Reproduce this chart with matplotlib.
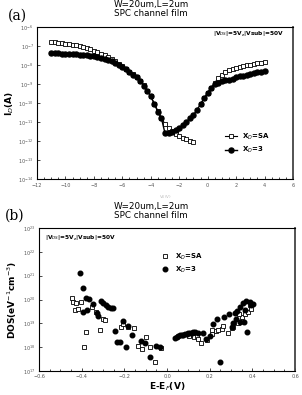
import numpy as np
import matplotlib
matplotlib.use("Agg")
import matplotlib.pyplot as plt
from matplotlib.ticker import MultipleLocator, LogLocator, NullLocator

# ---- (a) drain current vs gate voltage, log10(I_D) ----
vg = np.arange(-11.0, 4.01, 0.25)

log_id_sa = [-6.80, -6.81, -6.83, -6.85, -6.87, -6.90, -6.93, -6.97, -7.01, -7.06,
             -7.11, -7.17, -7.24, -7.32, -7.40, -7.49, -7.58, -7.68, -7.79, -7.92,
             -8.06, -8.20, -8.34, -8.49, -8.64, -8.84, -9.07, -9.34, -9.64, -10.02,
             -10.42, -10.78, -11.10, -11.30, -11.47, -11.60, -11.72, -11.82, -11.90, -11.98,
             -12.05, np.nan,
             -10.05, -9.75, -9.45, -9.18, -8.92, -8.68, -8.50, -8.38, -8.28, -8.20,
             -8.14, -8.09, -8.05, -8.01, -7.98, -7.94, -7.90, -7.87, -7.84]

log_id_3 = [-7.38, -7.38, -7.39, -7.40, -7.41, -7.42, -7.43, -7.44, -7.45, -7.46,
            -7.48, -7.51, -7.54, -7.58, -7.62, -7.68, -7.74, -7.81, -7.89, -7.99,
            -8.10, -8.23, -8.36, -8.50, -8.65, -8.85, -9.08, -9.35, -9.65, -10.05,
            -10.45, -10.80,
            -11.58, -11.56, -11.50, -11.42, -11.30, -11.15, -10.98, -10.80, -10.62, -10.35,
            -10.05, -9.75, -9.45, -9.20, -9.02, -8.92, -8.86, -8.81, -8.77, -8.71,
            -8.65, -8.60, -8.55, -8.50, -8.46, -8.42, -8.38, -8.34, -8.31]

# ---- (b) density of states, log10(DOS) ----
e_sa = [-0.447, -0.439, -0.427, -0.405, -0.431, -0.416, -0.380, -0.388, -0.353, -0.333,
        -0.314, -0.301, -0.289, -0.216, -0.208, -0.181, -0.155, -0.137, -0.119, -0.098,
        -0.080, -0.056, -0.029,
        0.105, 0.120, 0.127, 0.139, 0.144, 0.158, 0.186, 0.210, 0.230, 0.240, 0.256,
        0.287, 0.308, 0.210, 0.264, 0.303, 0.334, 0.350, 0.366, 0.378, 0.392, 0.389, 0.339]
log_dos_sa = [20.08, 19.91, 19.84, 19.88, 19.56, 19.59, 18.62, 17.99, 19.70, 19.49,
              18.72, 19.17, 19.14, 18.83, 18.97, 18.86, 18.79, 18.05, 17.91, 18.44,
              18.02, 17.39, 17.95,
              18.47, 18.50, 18.44, 18.47, 18.33, 18.19, 18.30, 18.55, 18.66, 18.71, 18.77,
              18.61, 18.83, 18.72, 18.89, 18.79, 19.03, 19.25, 19.39, 19.49, 19.59, 19.77, 19.39]

e_3 = [-0.410, -0.392, -0.380, -0.364, -0.395, -0.374, -0.348, -0.330, -0.322, -0.309,
       -0.299, -0.287, -0.275, -0.264, -0.252, -0.244, -0.233, -0.220, -0.205, -0.192,
       -0.184, -0.165, -0.122, -0.103, -0.080, -0.053, -0.033,
       0.038, 0.045, 0.053, 0.061, 0.069, 0.077, 0.084, 0.092, 0.100, 0.108, 0.116, 0.124,
       0.131, 0.147, 0.167, 0.181, 0.202, 0.214, 0.233, 0.249, 0.269, 0.292, 0.319, 0.327,
       0.342, 0.358, 0.370, 0.389, 0.402, 0.366, 0.342, 0.361, 0.377, 0.323, 0.311, 0.303, 0.395]
log_dos_3 = [21.12, 20.47, 20.08, 20.02, 19.49, 19.56, 19.81, 19.42, 19.32, 19.95,
             19.87, 19.77, 19.67, 19.63, 19.66, 18.68, 18.23, 18.20, 19.10, 17.99,
             18.89, 18.51, 18.27, 18.16, 17.57, 18.05, 17.99,
             18.37, 18.42, 18.47, 18.49, 18.51, 18.53, 18.55, 18.56, 18.58, 18.60, 18.61, 18.63,
             18.65, 18.58, 18.58, 18.33, 18.47, 18.97, 19.17, 17.36, 19.28, 19.39, 19.45, 19.53,
             19.70, 19.84, 19.94, 19.91, 19.81, 19.56, 19.07, 19.07, 18.65, 19.17, 19.00, 18.83, 19.76]

W, H = 302, 395
fig = plt.figure(figsize=(W / 100, H / 100), dpi=100)
plt.rcParams['font.family'] = ['DejaVu Sans']
tick_col = '#555555'


def style_axis(ax):
    ax.tick_params(which='both', direction='in', labelsize=3.5, labelcolor=tick_col,
                   width=0.5)
    ax.tick_params(axis='x', which='both', pad=2.5)
    ax.tick_params(axis='y', which='both', pad=2.5)
    ax.tick_params(which='major', length=2)
    ax.tick_params(which='minor', length=1.2)
    for s in ax.spines.values():
        s.set_linewidth(0.8)
    ax.spines['right'].set_linewidth(1.3)
    ax.spines['right'].set_color('#444444')
    ax.tick_params(axis='y', which='minor', left=False)


# ---------------- panel (a) ----------------
ax1 = fig.add_axes([37 / W, 1 - 179.3 / H, 256 / W, 152.3 / H])
ax1.plot(vg, 10 ** np.array(log_id_sa), 's-', color='black', mfc='white', mew=0.6,
         ms=3.1, lw=0.8, label='X$_D$=SA')
ax1.plot(vg, 10 ** np.array(log_id_3), 'o-', color='black', ms=3.6, lw=1.0, label='X$_D$=3')
ax1.set_yscale('log')
ax1.set_xlim(-12, 6)
ax1.set_ylim(1e-14, 1e-6)
ax1.xaxis.set_major_locator(MultipleLocator(2))
ax1.xaxis.set_minor_locator(MultipleLocator(0.5))
ax1.yaxis.set_major_locator(LogLocator(base=10, numticks=20))
ax1.yaxis.set_minor_locator(NullLocator())
style_axis(ax1)
ax1.set_ylabel('I$_D$(A)', fontsize=6.5, fontweight='bold', labelpad=2)
ax1.set_xlabel('V$_G$(V)', fontsize=3, color='#bbbbbb', labelpad=4)
ax1.text(0.687, 0.955, '|V$_{DS}$|=5V,|Vsub|=50V', transform=ax1.transAxes,
         fontsize=4.2, fontweight='bold', va='center', ha='left')
ax1.legend(loc='upper left', bbox_to_anchor=(0.72, 0.335), frameon=False,
           handlelength=1.7, handletextpad=0.8, labelspacing=0.45, borderpad=0,
           prop={'weight': 'bold', 'size': 5})

fig.text(151 / W, 1 - 5 / H, 'W=20um,L=2um', ha='center', va='center', fontsize=6.3)
fig.text(151 / W, 1 - 14 / H, 'SPC channel film', ha='center', va='center', fontsize=6.3)
fig.text(17 / W, 1 - 16 / H, '(a)', ha='center', va='center', fontsize=10, family='DejaVu Serif')

# ---------------- panel (b) ----------------
ax2 = fig.add_axes([39 / W, 1 - 371 / H, 256 / W, 143 / H])
ax2.plot(e_sa, 10 ** np.array(log_dos_sa), 's', color='black', mfc='white', mew=0.6,
         ms=3.0, ls='none', label='X$_D$=SA')
ax2.plot(e_3, 10 ** np.array(log_dos_3), 'o', color='black', ms=3.3, ls='none', label='X$_D$=3')
ax2.set_yscale('log')
ax2.set_xlim(-0.6, 0.6)
ax2.set_ylim(1e17, 1e23)
ax2.xaxis.set_major_locator(MultipleLocator(0.2))
ax2.xaxis.set_minor_locator(MultipleLocator(0.05))
ax2.yaxis.set_major_locator(LogLocator(base=10, numticks=20))
ax2.yaxis.set_minor_locator(NullLocator())
style_axis(ax2)
ax2.set_xlabel('E-E$_F$(V)', fontsize=6.5, fontweight='bold', labelpad=1)
ax2.set_ylabel('DOS(eV$^{-1}$cm$^{-3}$)', fontsize=6.5, fontweight='bold', labelpad=3)
ax2.text(0.023, 0.937, '|V$_{DS}$|=5V,|Vsub|=50V', transform=ax2.transAxes,
         fontsize=4.2, fontweight='bold', va='center', ha='left')
ax2.legend(loc='upper left', bbox_to_anchor=(0.465, 0.86), frameon=False,
           handlelength=1.0, handletextpad=0.9, labelspacing=0.45, borderpad=0,
           prop={'weight': 'bold', 'size': 5})

fig.text(151 / W, 1 - 206 / H, 'W=20um,L=2um', ha='center', va='center', fontsize=6.3)
fig.text(151 / W, 1 - 215 / H, 'SPC channel film', ha='center', va='center', fontsize=6.3)
fig.text(15 / W, 1 - 216 / H, '(b)', ha='center', va='center', fontsize=10, family='DejaVu Serif')

fig.savefig('out.png', dpi=100)
